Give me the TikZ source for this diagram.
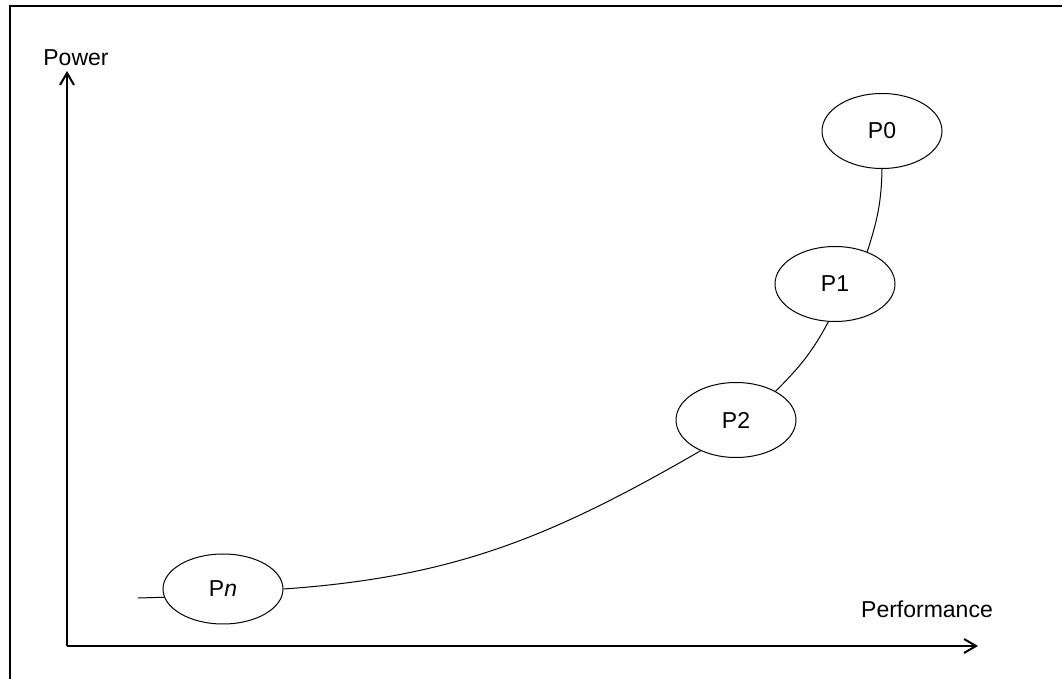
\documentclass[tikz,border=0pt]{standalone}
\usepackage{fontspec}
\setmainfont{Liberation Sans}
\usetikzlibrary{arrows.meta,shapes.geometric}
\tikzset{
  >={Straight Barb[length=6pt,width=7pt]},
  pstate/.style={draw, ellipse, minimum width=60pt, minimum height=37.5pt,
    inner sep=0pt, line width=.5pt, font=\fontsize{11.5}{14}\selectfont},
  axis/.style={->, line width=1pt},
  axlabel/.style={inner sep=0pt, font=\fontsize{11.5}{14}\selectfont},
  curve/.style={line width=.5pt},
  frame/.style={line width=1pt}
}

\begin{document}
\begin{tikzpicture}[x=0.5pt,y=-0.5pt]
\useasboundingbox (0,0) rectangle (1062,679);

% ------------------------------------------------------------------
% frame and axes
% ------------------------------------------------------------------
\coordinate (frameR) at (1062,6);
\coordinate (frameB) at (10,679);
\draw[frame] (frameR) -| (frameB);

\coordinate (origin) at (67,646);
\coordinate (yTip) at (67,71);
\coordinate (xTip) at (978,646);
\draw[axis] (origin) -- (yTip);
\draw[axis] (origin) -- (xTip);

\node[axlabel] (power) at (76,58) {Power};
\node[axlabel] (perf) at (927,609) {Performance};

% ------------------------------------------------------------------
% operating points
% ------------------------------------------------------------------
\node[pstate] (P0) at (882,131) {P0};
\node[pstate] (P1) at (835,284) {P1};
\node[pstate] (P2) at (736,420) {P2};
\node[pstate, minimum height=35pt] (Pn) at (223,589) {P\textit{n}};
\coordinate (stub) at (138,598);

\draw[curve] (P0.south) to[out=-91,in=72] (P1.45);
\draw[curve] (P1.-100) to[out=-118,in=45] (P2.36);
\draw[curve] (P2.-139) to[out=-150,in=4] (Pn.east);
\draw[curve] (stub) -- (Pn.188);

\end{tikzpicture}
\end{document}
